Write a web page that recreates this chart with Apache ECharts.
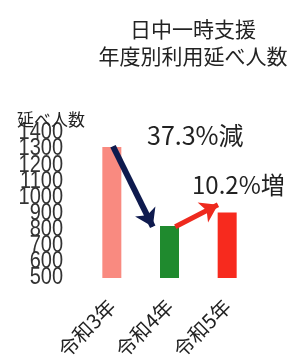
<!DOCTYPE html>
<html><head><meta charset="utf-8">
<script src="https://cdn.jsdelivr.net/npm/echarts@6/dist/echarts.min.js"></script>
<style>html,body{margin:0;padding:0;background:#fff}#c{width:296px;height:359px}</style>
</head><body><div id="c"></div>
<script>
const titleLines = ['日中一時支援', '年度別利用延べ人数'];
const yName = '延べ人数';
const categories = ['令和3年', '令和4年', '令和5年'];
const values = [1313, 823, 907];
const barColors = ['#F98A80', '#1F8A2E', '#F72A1E'];
const yTicks = [1400, 1300, 1200, 1100, 1000, 900, 800, 700, 600, 500];
const yMin = 500, yMax = 1400, yStep = 100;

const pct = (a, b) => (Math.abs(b - a) / a * 100).toFixed(1) + '%';
const dec = pct(values[0], values[1]) + '減';
const inc = pct(values[1], values[2]) + '増';

const chart = echarts.init(document.getElementById('c'), null, {renderer: 'canvas'});
const font = '"Noto Sans CJK JP", "Liberation Sans", sans-serif';
chart.setOption({
  animation: false,
  backgroundColor: '#fff',
  title: [
    {text: titleLines.join('\n'), left: 188, top: 11, textAlign: 'center',
     textStyle: {fontFamily: font, fontSize: 21, fontWeight: 'normal', color: '#222', lineHeight: 27}},
    {text: yName, left: 12, top: 106,
     textStyle: {fontFamily: font, fontSize: 17, fontWeight: 'normal', color: '#222'}},
    {text: dec, left: 142, top: 118,
     textStyle: {fontFamily: font, fontSize: 25, fontWeight: 'normal', color: '#222'}},
    {text: inc, left: 187, top: 168,
     textStyle: {fontFamily: font, fontSize: 24, fontWeight: 'normal', color: '#222'}}
  ],
  grid: {left: 83, right: 40, top: 133, bottom: 81, containLabel: false, outerBoundsMode: 'none'},
  xAxis: [
    {type: 'category', data: categories,
     axisLine: {show: false}, axisTick: {show: false},
     axisLabel: {rotate: 45, fontSize: 20, color: '#222', fontFamily: font, margin: 25, interval: 0}},
    {type: 'value', min: -0.5, max: 2.5, show: false}
  ],
  yAxis: {type: 'value', min: yMin, max: yMax, interval: yStep,
    axisLine: {show: false}, axisTick: {show: false}, splitLine: {show: false},
    axisLabel: {show: false}},
  series: [
    {type: 'bar', barWidth: 19, data: values.map((v, i) => ({value: v, itemStyle: {color: barColors[i]}}))},
    {type: 'lines', coordinateSystem: 'cartesian2d', xAxisIndex: 1, yAxisIndex: 0,
     symbol: ['none', 'arrow'], symbolSize: 17, z: 5,
     data: [
       {coords: [[0.02, values[0] + 5], [0.71, values[1] - 5]], lineStyle: {color: '#0E1A4E', width: 6, opacity: 1}},
       {coords: [[1.1, values[1] - 5], [1.84, (values[1] + values[2]) / 2 + 90]], lineStyle: {color: '#EE2A1E', width: 5, opacity: 1}}
     ]}
  ]
});
const axisX = chart.convertToPixel({xAxisIndex: 1}, -0.5);
chart.setOption({
  graphic: yTicks.map(v => ({
    type: 'text', x: axisX - 20, y: chart.convertToPixel({yAxisIndex: 0}, v),
    scaleY: 1.15, silent: true,
    style: {text: String(v), align: 'right', verticalAlign: 'middle', fontSize: 20,
      fontFamily: '"Liberation Sans", sans-serif', fill: '#333'}
  }))
});
</script></body></html>
